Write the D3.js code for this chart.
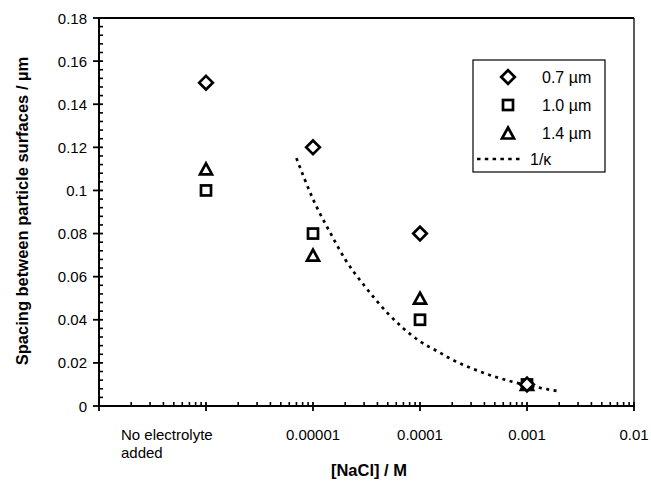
<!DOCTYPE html>
<html>
<head>
<meta charset="utf-8">
<script src="https://cdn.jsdelivr.net/npm/d3@7"></script>
<style>
  html, body { margin: 0; padding: 0; background: #fff; }
  svg { display: block; font-family: "Liberation Sans", Arial, sans-serif; }
</style>
</head>
<body>
<svg id="chart" width="651" height="483"></svg>
<script>
// ---- data ----
const concentrations = [1e-6, 1e-5, 1e-4, 1e-3]; // 1e-6 position = "No electrolyte added"
const series07 = [0.15, 0.12, 0.08, 0.01];
const series10 = [0.10, 0.08, 0.04, 0.01];
const series14 = [0.11, 0.07, 0.05, 0.01];
const seriesNames = ["0.7 µm", "1.0 µm", "1.4 µm", "1/κ"];
// 1/κ curve
const debyeX = [7e-6, 1e-5, 1.5e-5, 2e-5, 3e-5, 5e-5, 7e-5, 1e-4, 1.5e-4, 2e-4, 3e-4, 5e-4, 7e-4, 1e-3, 1.5e-3, 2e-3];
const debyeY = [0.115, 0.096, 0.079, 0.068, 0.056, 0.043, 0.036, 0.030, 0.025, 0.0215, 0.0176, 0.0136, 0.0115, 0.0096, 0.0079, 0.0068];
const xTickValues = [1e-6, 1e-5, 1e-4, 1e-3, 1e-2];
const xTickLabels = ["No electrolyte|added", "0.00001", "0.0001", "0.001", "0.01"];
const yTickValues = [0, 0.02, 0.04, 0.06, 0.08, 0.1, 0.12, 0.14, 0.16, 0.18];
const yTickLabels = ["0", "0.02", "0.04", "0.06", "0.08", "0.1", "0.12", "0.14", "0.16", "0.18"];

// ---- layout ----
const svg = d3.select("#chart");
const L = 99, R = 634, T = 18, B = 406;
const x = d3.scaleLog().domain([1e-7, 1e-2]).range([L, R]);
const y = d3.scaleLinear().domain([0, 0.18]).range([B, T]);

// frame: top and right lines
svg.append("line").attr("x1", L).attr("x2", R).attr("y1", T).attr("y2", T)
  .attr("stroke", "#000").attr("stroke-width", 2.2);
svg.append("line").attr("x1", R).attr("x2", R).attr("y1", T).attr("y2", B)
  .attr("stroke", "#000").attr("stroke-width", 1.3);

// y axis
const gy = svg.append("g");
gy.append("line").attr("x1", L).attr("x2", L).attr("y1", T - 1).attr("y2", B + 1)
  .attr("stroke", "#000").attr("stroke-width", 2);
const yMinor = d3.range(0, 0.1801, 0.004).filter(v => Math.abs(v / 0.02 - Math.round(v / 0.02)) > 1e-6);
gy.selectAll(".ymin").data(yMinor).enter().append("line")
  .attr("x1", L).attr("x2", L + 4).attr("y1", d => y(d)).attr("y2", d => y(d))
  .attr("stroke", "#000").attr("stroke-width", 1.6);
gy.selectAll(".ymaj").data(yTickValues).enter().append("line")
  .attr("x1", L - 6).attr("x2", L + 4).attr("y1", d => y(d)).attr("y2", d => y(d))
  .attr("stroke", "#000").attr("stroke-width", 1.8);
gy.selectAll(".ylab").data(yTickValues).enter().append("text")
  .attr("x", L - 12).attr("y", d => y(d) + 5.5)
  .attr("text-anchor", "end").attr("font-size", 15).attr("fill", "#000")
  .text((d, i) => yTickLabels[i]);

// x axis
const gx = svg.append("g");
gx.append("line").attr("x1", L - 1).attr("x2", R + 1).attr("y1", B).attr("y2", B)
  .attr("stroke", "#000").attr("stroke-width", 2);
const xMinor = [];
for (let e = -7; e < -2; e++) for (let m = 2; m <= 9; m++) xMinor.push(m * Math.pow(10, e));
gx.selectAll(".xmin").data(xMinor).enter().append("line")
  .attr("x1", d => x(d)).attr("x2", d => x(d)).attr("y1", B).attr("y2", B - 4)
  .attr("stroke", "#000").attr("stroke-width", 1.6);
gx.selectAll(".xmaj").data([1e-7].concat(xTickValues)).enter().append("line")
  .attr("x1", d => x(d)).attr("x2", d => x(d)).attr("y1", B + 5).attr("y2", B - 4)
  .attr("stroke", "#000").attr("stroke-width", 1.8);
xTickValues.forEach((v, i) => {
  const parts = xTickLabels[i].split("|");
  if (parts.length > 1) {
    const t = gx.append("text").attr("font-size", 15).attr("fill", "#000")
      .attr("x", x(v) - 85).attr("y", 440).attr("text-anchor", "start");
    parts.forEach((p, k) => t.append("tspan").attr("x", x(v) - 85).attr("dy", k === 0 ? 0 : 18).text(p));
  } else {
    gx.append("text").attr("font-size", 15).attr("fill", "#000")
      .attr("x", x(v)).attr("y", 440).attr("text-anchor", "middle").text(parts[0]);
  }
});

// axis titles
svg.append("text").attr("x", 369).attr("y", 476).attr("text-anchor", "middle")
  .attr("font-size", 16.5).attr("font-weight", "bold").text("[NaCl] / M");
svg.append("text").attr("transform", "translate(28,211) rotate(-90)")
  .attr("text-anchor", "middle").attr("font-size", 16.5).attr("font-weight", "bold")
  .text("Spacing between particle surfaces / µm");

// marker shapes
function diamond(g, cx, cy) {
  const r = 6.8;
  g.append("path").attr("d", `M${cx},${cy - r}L${cx + r},${cy}L${cx},${cy + r}L${cx - r},${cy}Z`)
    .attr("fill", "#fff").attr("stroke", "#000").attr("stroke-width", 2.7);
}
function square(g, cx, cy) {
  const s = 10;
  g.append("rect").attr("x", cx - s / 2).attr("y", cy - s / 2).attr("width", s).attr("height", s)
    .attr("fill", "#fff").attr("stroke", "#000").attr("stroke-width", 2.7);
}
function triangle(g, cx, cy) {
  const w = 6, h = 5.5;
  g.append("path").attr("d", `M${cx},${cy - h}L${cx + w},${cy + h}L${cx - w},${cy + h}Z`)
    .attr("fill", "#fff").attr("stroke", "#000").attr("stroke-width", 2.7).attr("stroke-linejoin", "miter");
}

// 1/κ curve
const line = d3.line().x(d => x(d[0])).y(d => y(d[1])).curve(d3.curveMonotoneX);
svg.append("path").datum(debyeX.map((v, i) => [v, debyeY[i]]))
  .attr("d", line).attr("fill", "none").attr("stroke", "#000")
  .attr("stroke-width", 2.7).attr("stroke-dasharray", "3,4.5");

// data markers
const gm = svg.append("g");
concentrations.forEach((c, i) => square(gm, x(c), y(series10[i])));
concentrations.forEach((c, i) => triangle(gm, x(c), y(series14[i])));
concentrations.forEach((c, i) => diamond(gm, x(c), y(series07[i])));

// legend
const lg = svg.append("g");
lg.append("rect").attr("x", 473).attr("y", 60).attr("width", 132).attr("height", 112)
  .attr("fill", "#fff").attr("stroke", "#000").attr("stroke-width", 1.2);
const rows = [77, 105, 133, 159];
diamond(lg, 508, rows[0]);
square(lg, 508, rows[1]);
triangle(lg, 508, rows[2]);
lg.append("line").attr("x1", 477).attr("x2", 523).attr("y1", rows[3]).attr("y2", rows[3])
  .attr("stroke", "#000").attr("stroke-width", 2.7).attr("stroke-dasharray", "3.5,4.3");
seriesNames.forEach((n, i) => {
  lg.append("text").attr("x", i === 3 ? 530 : 542).attr("y", rows[i] + 6)
    .attr("font-size", 16).attr("fill", "#000").text(n);
});
</script>
</body>
</html>
